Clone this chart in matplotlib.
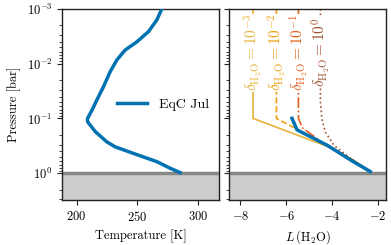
import numpy as np
import matplotlib
matplotlib.use("Agg")
import matplotlib.pyplot as plt

plt.rcParams['font.family'] = 'serif'
plt.rcParams['font.serif'] = ['cmr10', 'DejaVu Serif']
plt.rcParams['mathtext.fontset'] = 'cm'
plt.rcParams['axes.formatter.use_mathtext'] = True
plt.rcParams['font.size'] = 9

# temperature profile (EqC Jul)
temp_K = [270.0, 265.9, 259.0, 249.5, 239.9, 233.1, 227.6, 222.1, 216.7, 212.6, 209.0,
          209.0, 215.3, 224.9, 231.7, 246.7, 265.9, 276.8, 285.0]
temp_logp = [-3.0, -2.8, -2.585, -2.4, -2.25, -2.07, -1.855, -1.58, -1.34, -1.15, -1.0,
             -0.94, -0.76, -0.57, -0.48, -0.36, -0.21, -0.09, -0.01]

# L(H2O) for the model
eqc_L = [-5.75, -5.53, -4.22, -3.08, -2.34]
eqc_logp = [-1.0, -0.79, -0.51, -0.21, -0.03]

# parametrised profiles for each delta
deltas = ['10^{-3}', '10^{-2}', '10^{-1}', '10^{0}']
d_colors = ['#e8b33a', '#f0a010', '#e0621a', '#a0522d']
d_styles = ['-', '--', '-.', ':']
d_L = [
    [-7.45, -7.45, -4.16, -3.1, -2.34],
    [-6.43, -6.43, -4.6, -3.1, -2.34],
    [-5.47, -5.47, -5.3, -4.4, -3.1, -2.34],
    [-4.51, -4.51, -4.45, -4.3, -3.9, -3.1, -2.34],
]
d_logp = [
    [-3.0, -1.0, -0.48, -0.24, -0.03],
    [-3.0, -1.0, -0.6, -0.24, -0.03],
    [-3.0, -1.0, -0.83, -0.55, -0.24, -0.03],
    [-3.0, -1.3, -1.0, -0.75, -0.5, -0.24, -0.03],
]

p_surf = 1.0
ylims = (3.1, 1e-3)

fig = plt.figure(figsize=(3.91, 2.45), dpi=100)
ax1 = fig.add_axes([62/391, 45/245, 157/391, 191/245])
ax2 = fig.add_axes([229/391, 45/245, 157/391, 191/245])

for ax in (ax1, ax2):
    ax.set_yscale('log')
    ax.set_ylim(*ylims)
    ax.axhspan(p_surf, 10, color='#cccccc', zorder=0, lw=0)
    ax.axhline(p_surf, color='#888888', lw=2.5, zorder=1)
    ax.tick_params(direction='out', which='both', top=False, right=False, color='#222222')
    for s in ax.spines.values():
        s.set_color('#222222')
        s.set_linewidth(1.0)

ax1.plot(temp_K, 10**np.array(temp_logp), color='#0072B2', lw=2.5, label='EqC Jul', zorder=3)
ax1.set_xlim(188, 317)
ax1.set_xticks([200, 250, 300])
ax1.set_xlabel('Temperature [K]')
ax1.set_ylabel('Pressure [bar]')
ax1.legend(loc='center right', bbox_to_anchor=(0.97, 0.5), frameon=False,
           handlelength=2.2, borderaxespad=0.0, fontsize=10)

for lab, c, ls, L, lp in zip(deltas, d_colors, d_styles, d_L, d_logp):
    ax2.plot(L, 10**np.array(lp), color=c, ls=ls, lw=1.2, zorder=2)
    ax2.text(L[0], 10**-2.2, r'$\delta_{\mathrm{H_2O}} = %s$' % lab, color=c,
             rotation=90, ha='center', va='center', fontsize=11, zorder=4,
             bbox=dict(facecolor='white', edgecolor='none', pad=0.3))
ax2.plot(eqc_L, 10**np.array(eqc_logp), color='#0072B2', lw=2.5, zorder=3)
ax2.set_xlim(-8.5, -1.65)
ax2.set_xticks([-8, -6, -4, -2])
ax2.tick_params(labelleft=False, which='both')
ax2.set_xlabel(r'$L\,(\mathrm{H_2O})$')

fig.savefig('out.png', dpi=100)
